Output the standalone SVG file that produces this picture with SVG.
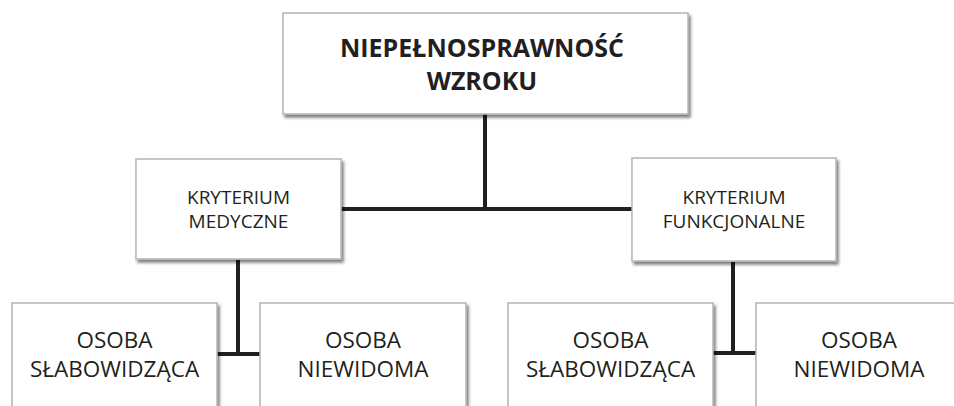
<svg xmlns="http://www.w3.org/2000/svg" width="954" height="406" viewBox="0 0 954 406">
<defs>
<filter id="sh" x="-10%" y="-10%" width="130%" height="130%">
<feDropShadow dx="2" dy="3" stdDeviation="1.5" flood-color="#000" flood-opacity="0.5"/>
</filter>
<style>
.box{fill:#fff;stroke:#b4b4b4;stroke-width:1.5;filter:url(#sh)}
.t{font-family:"Open Sans","DejaVu Sans",sans-serif;fill:#231f20;text-anchor:middle}
.title{font-size:25px;font-weight:bold}
.mid{font-size:19px}
.bot{font-size:22.5px}
.con{stroke:#231f20;stroke-width:4;fill:none}
</style>
</defs>
<rect width="954" height="406" fill="#fff"/>
<g id="connectors">
<path class="con" d="M485 114V209M341 209H632"/>
<path class="con" d="M238 260V354M217 354H260"/>
<path class="con" d="M733 262V353M713 353H756"/>
</g>
<g id="n-root">
<rect class="box" x="283" y="13" width="405" height="101"/>
<text class="t title" x="482" y="57">NIEPEŁNOSPRAWNOŚĆ</text>
<text class="t title" x="482" y="90">WZROKU</text>
</g>
<g id="n-med">
<rect class="box" x="136" y="159" width="205" height="100"/>
<text class="t mid" x="238.5" y="204">KRYTERIUM</text>
<text class="t mid" x="238.5" y="228">MEDYCZNE</text>
</g>
<g id="n-fun">
<rect class="box" x="632" y="158" width="204" height="103"/>
<text class="t mid" x="734" y="204">KRYTERIUM</text>
<text class="t mid" x="734" y="228">FUNKCJONALNE</text>
</g>
<g id="n-med-slab">
<rect class="box" x="12" y="303" width="205" height="120"/>
<text class="t bot" x="114.5" y="348">OSOBA</text>
<text class="t bot" x="114.5" y="377">SŁABOWIDZĄCA</text>
</g>
<g id="n-med-niew">
<rect class="box" x="260" y="303" width="206" height="120"/>
<text class="t bot" x="363" y="348">OSOBA</text>
<text class="t bot" x="363" y="377">NIEWIDOMA</text>
</g>
<g id="n-fun-slab">
<rect class="box" x="508" y="303" width="205" height="120"/>
<text class="t bot" x="610.5" y="348">OSOBA</text>
<text class="t bot" x="610.5" y="377">SŁABOWIDZĄCA</text>
</g>
<g id="n-fun-niew">
<rect class="box" x="756" y="303" width="210" height="120"/>
<text class="t bot" x="859" y="348">OSOBA</text>
<text class="t bot" x="859" y="377">NIEWIDOMA</text>
</g>
</svg>
